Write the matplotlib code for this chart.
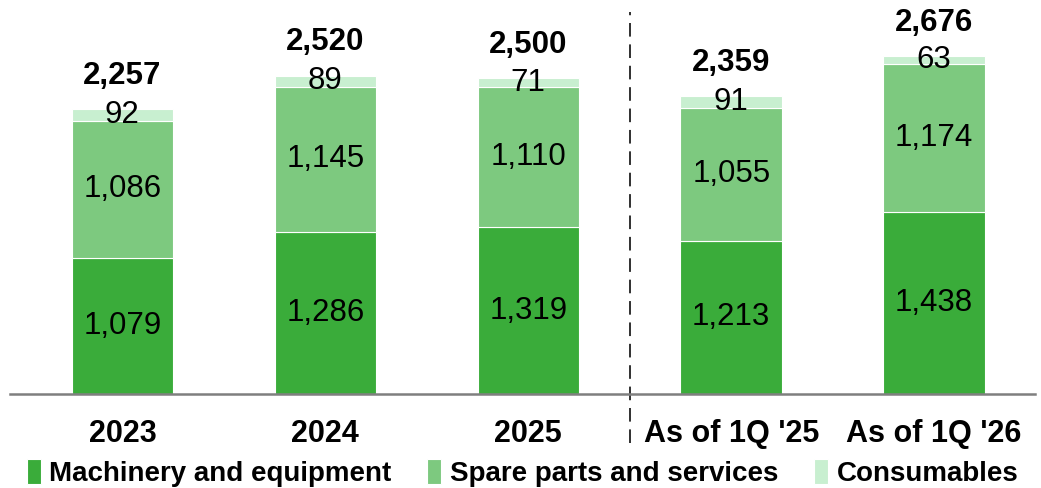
import matplotlib.pyplot as plt
import numpy as np

categories = ["2023", "2024", "2025", "As of 1Q '25", "As of 1Q '26"]
machinery = [1079, 1286, 1319, 1213, 1438]
spare_parts = [1086, 1145, 1110, 1055, 1174]
consumables = [92, 89, 71, 91, 63]
totals = [2257, 2520, 2500, 2359, 2676]

series = [
	("Machinery and equipment", machinery, "#3aac3a"),
	("Spare parts and services", spare_parts, "#7dc97f"),
	("Consumables", consumables, "#c8efd0"),
]

plt.rcParams['font.family'] = ['Liberation Sans', 'DejaVu Sans']

fig = plt.figure(figsize=(10.41, 4.88), dpi=100)
ax = fig.add_axes([10 / 1041, 94 / 488, 1025 / 1041, 394 / 488])

x = np.arange(len(categories))
bottom = np.zeros(len(categories))
for name, vals, col in series:
	vals = np.array(vals, dtype=float)
	ax.bar(x, vals, 0.5, bottom=bottom, color=col, edgecolor="white",
		linewidth=0.8, label=name)
	for xi, b, v in zip(x, bottom, vals):
		ax.text(xi, b + v / 2, f"{int(v):,}", ha="center", va="center",
			fontsize=22.5, color="black")
	bottom += vals

for xi, top, t in zip(x, bottom, totals):
	ax.annotate(f"{t:,}", (xi, top), xytext=(0, 24), textcoords="offset points",
		ha="center", va="center", fontsize=22.5, fontweight="bold")

ax.set_xlim(-0.554, 4.497)
ax.set_ylim(0, 3120)

# dashed separator between annual and quarterly
ax.plot([2.5, 2.5], [-49 / 394, 382 / 394], transform=ax.get_xaxis_transform(),
	color="#303030", linestyle=(0, (7, 4)), linewidth=1.4, clip_on=False)

for s in ["top", "right", "left"]:
	ax.spines[s].set_visible(False)
ax.spines["bottom"].set_color("#7f7f7f")
ax.spines["bottom"].set_linewidth(1.8)
ax.set_yticks([])
ax.set_xticks(x)
ax.set_xticklabels(categories, fontsize=22, fontweight="bold")
ax.tick_params(axis="x", length=0, pad=18)

ax.legend(loc="center", bbox_to_anchor=(0.5, -0.2), bbox_transform=ax.transAxes,
	ncol=3, frameon=False, prop={"size": 20, "weight": "bold"},
	handlelength=0.5, handleheight=1.0, handletextpad=0.3, columnspacing=1.3)

fig.savefig("out.png", dpi=100)
